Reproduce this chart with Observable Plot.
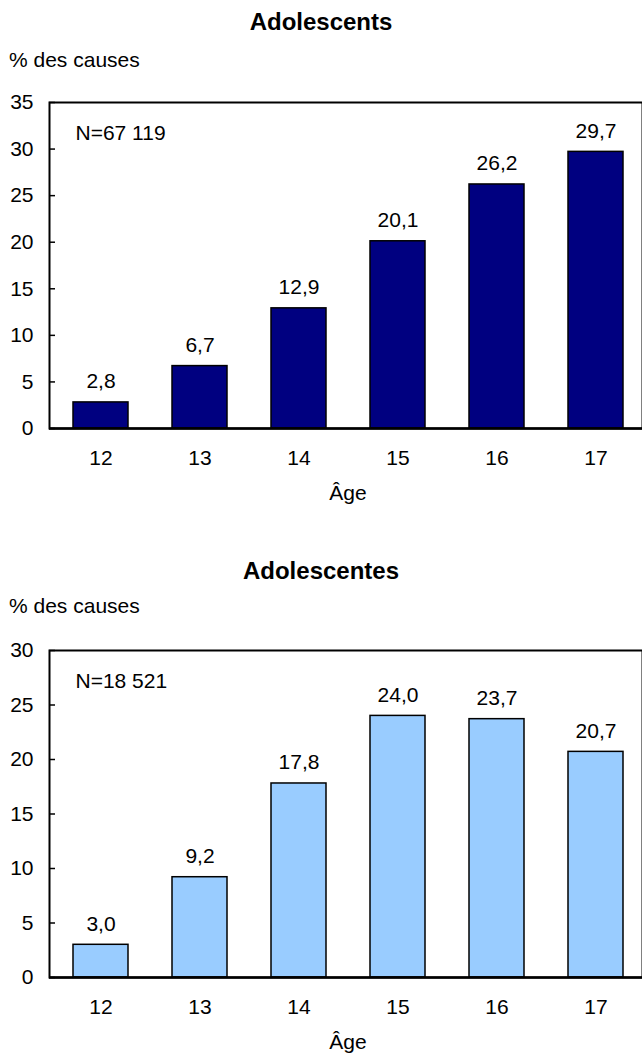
<!DOCTYPE html>
<html>
<head>
<meta charset="utf-8">
<script src="https://cdn.jsdelivr.net/npm/d3@7"></script>
<script src="https://cdn.jsdelivr.net/npm/@observablehq/plot@0.6"></script>
<style>
  html, body { margin: 0; padding: 0; background: white; }
  body { width: 642px; height: 1055px; overflow: hidden; font-family: "Liberation Sans", Arial, sans-serif; }
  .title { font-weight: bold; font-size: 24px; text-align: center; width: 642px; }
  .sub { font-size: 21px; padding-left: 9px; }
  svg { display: block; }
</style>
</head>
<body>
<div id="c1"></div>
<div id="c2"></div>
<script>
const ages = ["12", "13", "14", "15", "16", "17"];
const boysValues = [2.8, 6.7, 12.9, 20.1, 26.2, 29.7];
const girlsValues = [3.0, 9.2, 17.8, 24.0, 23.7, 20.7];
const boysTicks = [0, 5, 10, 15, 20, 25, 30, 35];
const girlsTicks = [0, 5, 10, 15, 20, 25, 30];
const titles = ["Adolescents", "Adolescentes"];
const nLabels = ["N=67 119", "N=18 521"];
const yLabel = "% des causes";
const xLabel = "Âge";

const fmt = v => v.toFixed(1).replace(".", ",");

function chart({values, ticks, ymax, fill, nLabel, height, marginTop, marginBottom}) {
  const data = ages.map((a, i) => ({age: a, value: values[i]}));
  return Plot.plot({
    width: 642,
    height,
    marginLeft: 49,
    marginRight: 0,
    marginTop,
    marginBottom,
    style: {fontSize: "21px", fontFamily: "'Liberation Sans', Arial, sans-serif", color: "black", background: "white", overflow: "hidden"},
    x: {type: "band", domain: ages, range: [49, 647], paddingInner: 0.44, paddingOuter: 0.22},
    y: {domain: [0, ymax]},
    marks: [
      Plot.barY(data, {x: "age", y: "value", fill, stroke: "black", strokeWidth: 1.5}),
      Plot.tickY(ticks, {y: d => d, stroke: "black", strokeWidth: 1.5, insetRight: 642 - 49 - 6}),
      Plot.frame({stroke: "black", strokeWidth: 2}),
      Plot.ruleY([0], {stroke: "black", strokeWidth: 2.5}),
      Plot.axisY({ticks, tickSize: 0, tickPadding: 16, label: null, fill: "black"}),
      Plot.axisX({tickSize: 0, tickPadding: 22, label: null, fill: "black"}),
      Plot.text(data, {x: "age", y: "value", text: d => fmt(d.value), dy: -21, lineAnchor: "middle", fill: "black"}),
      Plot.text([nLabel], {frameAnchor: "top-left", dx: 26, dy: 31, textAnchor: "start", lineAnchor: "middle", fill: "black"}),
      Plot.text([xLabel], {frameAnchor: "bottom", dx: 2, dy: 65, lineAnchor: "middle", fill: "black"})
    ]
  });
}

function block(id, title, plot, titleH, subH) {
  const el = document.getElementById(id);
  const t = document.createElement("div");
  t.className = "title"; t.textContent = title;
  t.style.height = titleH + "px"; t.style.lineHeight = titleH + "px";
  const s = document.createElement("div");
  s.className = "sub"; s.textContent = yLabel;
  s.style.height = subH + "px"; s.style.lineHeight = subH + "px";
  el.append(t, s, plot);
}

block("c1", titles[0], chart({values: boysValues, ticks: boysTicks, ymax: 35, fill: "#000080", nLabel: nLabels[0], height: 473, marginTop: 26, marginBottom: 121}), 44, 32);
block("c2", titles[1], chart({values: girlsValues, ticks: girlsTicks, ymax: 30, fill: "#99CCFF", nLabel: nLabels[1], height: 436, marginTop: 31, marginBottom: 78}), 44, 26);
</script>
</body>
</html>
